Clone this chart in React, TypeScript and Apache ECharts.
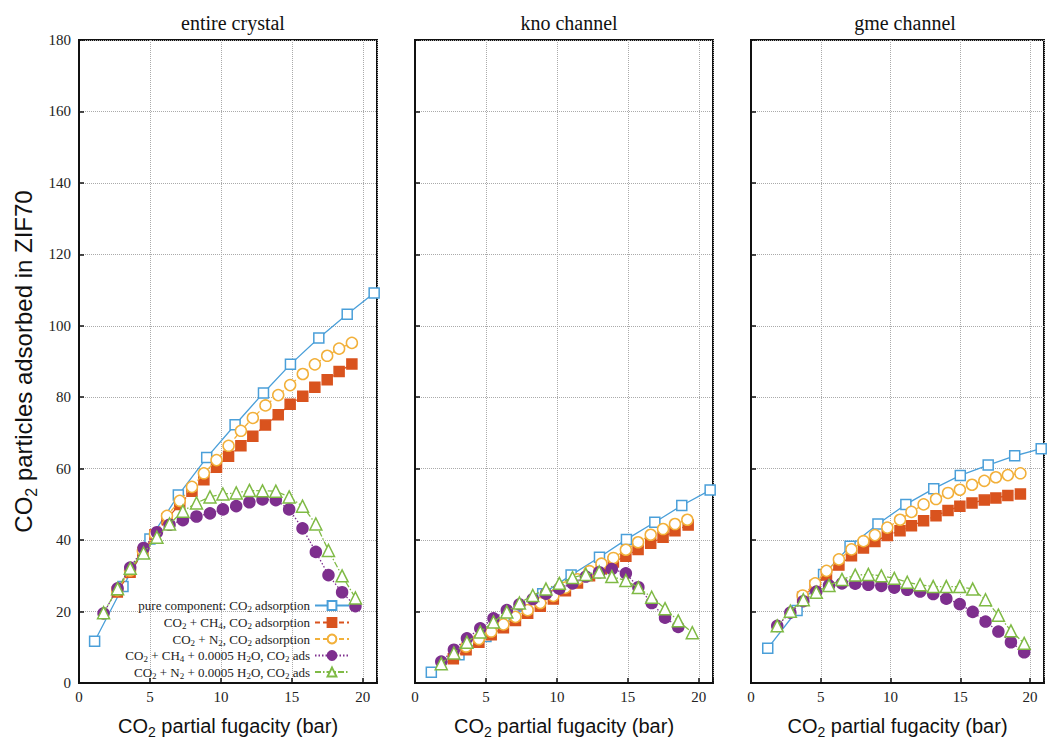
import React, { useEffect, useRef } from "react";
import * as echarts from "echarts";

// ---------- data ----------
const panelTitles = ["entire crystal", "kno channel", "gme channel"];
const seriesNames = [
  "pure component: CO2 adsorption",
  "CO2 + CH4, CO2 adsorption",
  "CO2 + N2, CO2 adsorption",
  "CO2 + CH4 + 0.0005 H2O, CO2 ads",
  "CO2 + N2 + 0.0005 H2O, CO2 ads",
];
const legendRich = [
  "{t|pure component: CO}{s|2}{t| adsorption}",
  "{t|CO}{s|2}{t| + CH}{s|4}{t|, CO}{s|2}{t| adsorption}",
  "{t|CO}{s|2}{t| + N}{s|2}{t|, CO}{s|2}{t| adsorption}",
  "{t|CO}{s|2}{t| + CH}{s|4}{t| + 0.0005 H}{s|2}{t|O, CO}{s|2}{t| ads}",
  "{t|CO}{s|2}{t| + N}{s|2}{t| + 0.0005 H}{s|2}{t|O, CO}{s|2}{t| ads}",
];
const yTicks = [0, 20, 40, 60, 80, 100, 120, 140, 160, 180];
const xTicks = [0, 5, 10, 15, 20];

// panel 1: entire crystal
const p1PureX = [1.1, 3.1, 5.0, 7.0, 9.0, 11.0, 13.0, 14.9, 16.9, 18.9, 20.8];
const p1PureY = [11.7, 27.0, 40.3, 52.6, 63.1, 72.3, 81.2, 89.2, 96.6, 103.2, 109.2];
const p1MixX = [2.7, 3.6, 4.5, 5.35, 6.2, 7.1, 7.96, 8.8, 9.69, 10.54, 11.41, 12.25, 13.14, 14.04, 14.88, 15.77, 16.62, 17.49, 18.33, 19.23];
const p1Ch4Y = [25.5, 31.0, 36.5, 41.5, 46.0, 50.0, 53.7, 56.9, 60.4, 63.5, 66.4, 69.1, 72.2, 75.1, 78.0, 80.3, 82.8, 84.9, 87.2, 89.3];
const p1N2Y = [26.0, 31.5, 37.0, 41.7, 46.8, 51.0, 54.9, 58.7, 62.4, 66.4, 70.6, 74.2, 77.7, 80.6, 83.4, 86.5, 89.2, 91.6, 93.6, 95.2];
const p1WetX = [1.73, 2.72, 3.61, 4.55, 5.49, 6.38, 7.32, 8.28, 9.23, 10.14, 11.08, 12.01, 12.93, 13.87, 14.81, 15.75, 16.69, 17.58, 18.54, 19.48];
const p1Ch4WetY = [19.5, 26.5, 32.3, 37.8, 42.2, 44.3, 45.6, 46.6, 47.5, 48.6, 49.5, 50.6, 51.4, 51.2, 48.6, 43.3, 36.7, 30.2, 25.4, 21.5];
const p1N2WetY = [19.7, 26.4, 32.1, 36.4, 40.8, 44.5, 48.1, 50.4, 52.1, 52.9, 53.2, 53.9, 53.8, 53.7, 52.1, 49.5, 44.5, 37.1, 30.0, 23.8];

// panel 2: kno channel
const p2PureX = [1.15, 3.1, 5.0, 7.0, 9.0, 11.0, 13.0, 14.9, 16.9, 18.8, 20.8];
const p2PureY = [3.0, 7.9, 13.0, 18.6, 25.0, 30.2, 35.2, 40.2, 45.0, 49.7, 54.0];
const p2Ch4X = [2.7, 3.6, 4.5, 5.37, 6.23, 7.08, 7.94, 8.83, 9.75, 10.6, 11.45, 12.3, 13.14, 13.98, 14.86, 15.72, 16.61, 17.48, 18.32, 19.25];
const p2Ch4Y = [6.8, 9.3, 11.4, 13.5, 15.5, 17.5, 19.5, 21.5, 23.5, 25.8, 28.0, 30.0, 32.0, 33.9, 35.5, 37.4, 39.1, 40.8, 42.6, 44.2];
const p2N2X = [3.6, 4.5, 5.37, 6.23, 7.08, 7.94, 8.83, 9.75, 10.6, 11.45, 12.3, 13.14, 13.98, 14.86, 15.72, 16.61, 17.48, 18.32, 19.19];
const p2N2Y = [10.2, 12.3, 14.4, 16.4, 18.5, 20.4, 22.4, 24.4, 26.7, 29.0, 31.3, 33.4, 35.0, 37.3, 39.4, 41.5, 43.1, 44.5, 45.7];
const p2WetX = [1.85, 2.74, 3.66, 4.6, 5.53, 6.47, 7.36, 8.3, 9.23, 10.17, 11.1, 12.04, 12.98, 13.87, 14.86, 15.74, 16.68, 17.62, 18.55, 19.54];
const p2Ch4WetY = [6.0, 9.3, 12.5, 15.3, 18.1, 20.4, 22.0, 23.5, 25.0, 26.4, 27.9, 29.8, 31.0, 31.9, 30.7, 26.8, 22.4, 18.3, 15.7];
const p2N2WetY = [5.4, 8.4, 11.4, 14.3, 17.1, 19.9, 22.4, 24.5, 26.3, 27.9, 29.5, 30.4, 31.1, 29.8, 28.7, 26.7, 24.0, 20.8, 17.4, 14.1];

// panel 3: gme channel
const p3PureX = [1.2, 3.3, 5.2, 7.1, 9.1, 11.1, 13.1, 15.0, 17.0, 18.9, 20.8];
const p3PureY = [9.7, 20.3, 30.4, 38.3, 44.5, 50.0, 54.4, 58.1, 61.0, 63.6, 65.6];
const p3MixX = [3.7, 4.6, 5.41, 6.3, 7.2, 8.06, 8.88, 9.77, 10.68, 11.5, 12.37, 13.26, 14.12, 14.97, 15.84, 16.72, 17.55, 18.41, 19.31];
const p3Ch4Y = [24.0, 27.3, 30.2, 33.0, 35.6, 37.8, 39.6, 41.3, 42.6, 44.0, 45.4, 46.8, 48.3, 49.5, 50.4, 51.2, 51.8, 52.5, 52.9];
const p3N2Y = [24.5, 27.9, 31.4, 34.6, 37.4, 39.7, 41.4, 43.5, 45.7, 47.9, 50.0, 51.5, 53.2, 54.1, 55.5, 56.6, 57.6, 58.2, 58.7];
const p3WetX = [1.88, 2.82, 3.75, 4.68, 5.59, 6.52, 7.47, 8.41, 9.34, 10.27, 11.2, 12.12, 13.06, 14.0, 14.96, 15.89, 16.81, 17.73, 18.63, 19.58];
const p3Ch4WetY = [16.0, 19.7, 22.9, 25.6, 27.3, 27.9, 27.8, 27.5, 27.2, 26.7, 26.1, 25.6, 24.9, 23.6, 22.1, 19.9, 17.2, 14.4, 11.4, 8.6];
const p3N2WetY = [16.0, 20.1, 23.3, 25.4, 27.3, 29.0, 30.2, 30.4, 30.0, 29.3, 28.2, 27.5, 27.0, 27.0, 27.0, 26.3, 23.3, 19.0, 14.6, 11.1];

const panelData = [
  [[p1PureX, p1PureY], [p1MixX, p1Ch4Y], [p1MixX, p1N2Y], [p1WetX, p1Ch4WetY], [p1WetX, p1N2WetY]],
  [[p2PureX, p2PureY], [p2Ch4X, p2Ch4Y], [p2N2X, p2N2Y], [p2WetX, p2Ch4WetY], [p2WetX, p2N2WetY]],
  [[p3PureX, p3PureY], [p3MixX, p3Ch4Y], [p3MixX, p3N2Y], [p3WetX, p3Ch4WetY], [p3WetX, p3N2WetY]],
];

// ---------- styles ----------
const SERIF = "'Liberation Serif', 'Times New Roman', serif";
const SANS = "'Liberation Sans', Arial, sans-serif";
const colors = ["#4a9fd9", "#d9531e", "#f2b03a", "#7e2f8e", "#7fba45"];
const styles = [
  { symbol: "rect", size: 10, fill: "#ffffff", line: "solid" },
  { symbol: "rect", size: 10, fill: colors[1], line: [5, 3] },
  { symbol: "circle", size: 11, fill: "#ffffff", line: [5, 3] },
  { symbol: "circle", size: 11, fill: colors[3], line: [1.5, 2] },
  { symbol: "triangle", size: 12, fill: "#ffffff", line: [6, 2, 1.5, 2] },
];
const gridLeft = [79, 415, 751];
const gridWidth = 298;
const gridTop = 40;
const gridHeight = 653;
const legendCenters = [607, 624, 640.5, 657, 673.5];

export default function App() {
  const ref = useRef<HTMLDivElement>(null);
  useEffect(() => {
    if (!ref.current) return;
    const chart = echarts.init(ref.current, null, { renderer: "svg" });
    const grids = gridLeft.map((l) => ({
      left: l,
      top: gridTop,
      width: gridWidth,
      height: gridHeight,
      show: true,
      borderColor: "#111",
      borderWidth: 2,
    }));
    const axisNameRich = (size: number) => ({
      a: { fontFamily: SANS, fontSize: size, color: "#111", lineHeight: size + 7 },
      s: { fontFamily: SANS, fontSize: Math.round(size * 0.68), color: "#111", lineHeight: size + 7, verticalAlign: "bottom" },
    });
    const xAxes = gridLeft.map((_, i) => ({
      type: "value",
      gridIndex: i,
      min: 0,
      max: 21,
      interval: 5,
      name: "{a|CO}{s|2}{a| partial fugacity (bar)}",
      nameLocation: "middle",
      nameGap: 29,
      nameTextStyle: { color: "#111", rich: axisNameRich(20) },
      axisLine: { show: true, lineStyle: { color: "#111", width: 2 } },
      axisTick: { show: true, inside: true, length: 5, lineStyle: { color: "#111", width: 1.5 } },
      axisLabel: {
        show: true,
        margin: 6,
        fontFamily: SERIF,
        fontSize: 15,
        color: "#222",
        formatter: (v: number) => (xTicks.indexOf(v) >= 0 ? String(v) : ""),
      },
      splitLine: { show: true, lineStyle: { color: "#aaaaaa", type: "dotted", width: 1 } },
    }));
    const yAxes = gridLeft.map((_, i) => ({
      type: "value",
      gridIndex: i,
      min: 0,
      max: 180,
      interval: 20,
      name: i === 0 ? "{a|CO}{s|2}{a| particles adsorbed in ZIF70}" : "",
      nameLocation: "middle",
      nameRotate: 90,
      nameGap: 40,
      nameTextStyle: { color: "#111", rich: axisNameRich(24) },
      axisLine: { show: true, lineStyle: { color: "#111", width: 2 } },
      axisTick: { show: true, inside: true, length: 5, lineStyle: { color: "#111", width: 1.5 } },
      axisLabel: {
        show: i === 0,
        margin: 8,
        fontFamily: SERIF,
        fontSize: 15,
        color: "#222",
        formatter: (v: number) => (yTicks.indexOf(v) >= 0 ? String(v) : ""),
      },
      splitLine: { show: true, lineStyle: { color: "#aaaaaa", type: "dotted", width: 1 } },
    }));
    const series: any[] = [];
    panelData.forEach((panel, pi) => {
      panel.forEach(([xs, ys], si) => {
        const st = styles[si];
        series.push({
          type: "line",
          name: seriesNames[si],
          xAxisIndex: pi,
          yAxisIndex: pi,
          data: ys.map((y, k) => [xs[k], y]),
          symbol: st.symbol,
          symbolSize: st.size,
          showSymbol: true,
          z: 2 + si,
          itemStyle: { color: st.fill, borderColor: colors[si], borderWidth: 1.5 },
          lineStyle: { color: colors[si], width: 1.3, type: st.line },
          emphasis: { disabled: true },
        });
      });
    });
    const legends = seriesNames.map((n, i) => ({
      data: [n],
      orient: "vertical",
      right: 1047 - 350,
      top: legendCenters[i] - 8,
      align: "right",
      itemWidth: 34,
      itemHeight: 11,
      itemGap: 0,
      padding: 0,
      selectedMode: false,
      formatter: () => legendRich[i],
      textStyle: {
        color: "#222",
        rich: {
          t: { fontFamily: SERIF, fontSize: 13, color: "#222", lineHeight: 16 },
          s: { fontFamily: SERIF, fontSize: 9, color: "#222", lineHeight: 16, verticalAlign: "bottom" },
        },
      },
    }));
    const titles = panelTitles.map((t, i) => ({
      text: t,
      left: gridLeft[i] + gridWidth / 2,
      top: 8,
      textAlign: "center",
      textStyle: { fontFamily: SERIF, fontSize: 20, fontWeight: "normal", color: "#111" },
    }));
    chart.setOption({
      animation: false,
      backgroundColor: "#ffffff",
      title: titles,
      grid: grids,
      xAxis: xAxes,
      yAxis: yAxes,
      legend: legends,
      series,
    });
    return () => chart.dispose();
  }, []);
  return (
    <div
      ref={ref}
      style={{ position: "absolute", left: 0, top: 0, width: 1047, height: 744 }}
    />
  );
}
